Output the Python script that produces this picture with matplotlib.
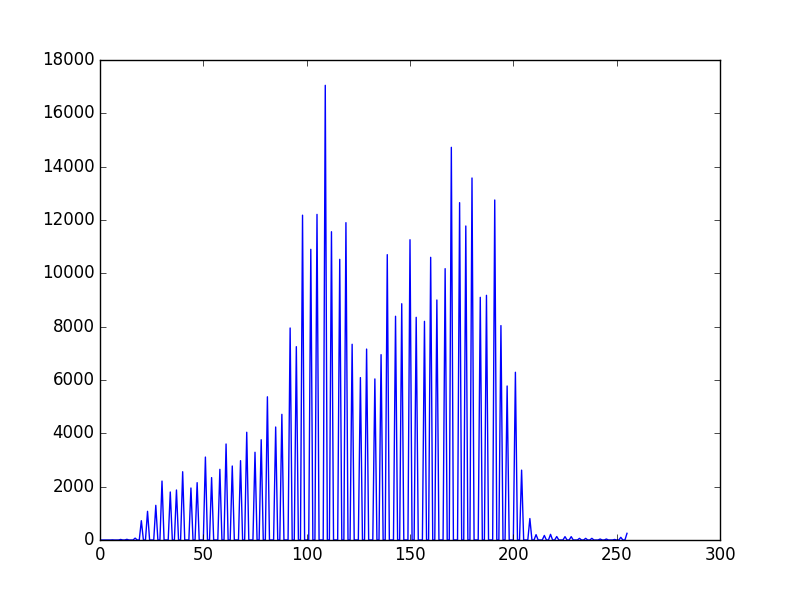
#!/usr/bin/env python

import numpy as np
import matplotlib
matplotlib.use('Agg')
import matplotlib.pyplot as plt

################################################################################

n_bins = 256

# occupied histogram bins (everything else is empty) and their counts
peak_bins = [
  6, 10, 13, 17, 20, 23, 27, 30, 34, 37, 40, 44, 47, 51, 54, 58, 61, 64, 68,
  71, 75, 78, 81, 85, 88, 92, 95, 98, 102, 105, 109, 112, 116, 119, 122, 126,
  129, 133, 136, 139, 143, 146, 150, 153, 157, 160, 163, 167, 170, 174, 177,
  180, 184, 187, 191, 194, 197, 201, 204, 208, 211, 215, 218, 221, 225, 228,
  232, 235, 238, 242, 245, 249, 252, 255,
]
peak_counts = [
  5, 20, 25, 70, 724, 1075, 1300, 2210, 1800, 1875, 2560, 1950, 2150, 3110,
  2340, 2650, 3600, 2775, 2975, 4040, 3290, 3760, 5370, 4237, 4712, 7950,
  7250, 12180, 10900, 12210, 17050, 11560, 10525, 11900, 7340, 6090, 7160,
  6040, 6950, 10700, 8390, 8860, 11260, 8350, 8200, 10600, 9000, 10175, 14725,
  12650, 11775, 13575, 9100, 9175, 12750, 8040, 5775, 6290, 2620, 805, 200,
  170, 212, 130, 125, 125, 62, 62, 62, 37, 37, 20, 100, 250,
]

################################################################################

hist = np.zeros(n_bins)
hist[peak_bins] = peak_counts

plt.style.use('classic')
plt.figure(figsize=(8, 6), dpi=100)
plt.plot(np.arange(n_bins), hist, c='b')
plt.xlim(0, 300)
plt.ylim(0, 18000)
plt.savefig('out.png', dpi=100)
